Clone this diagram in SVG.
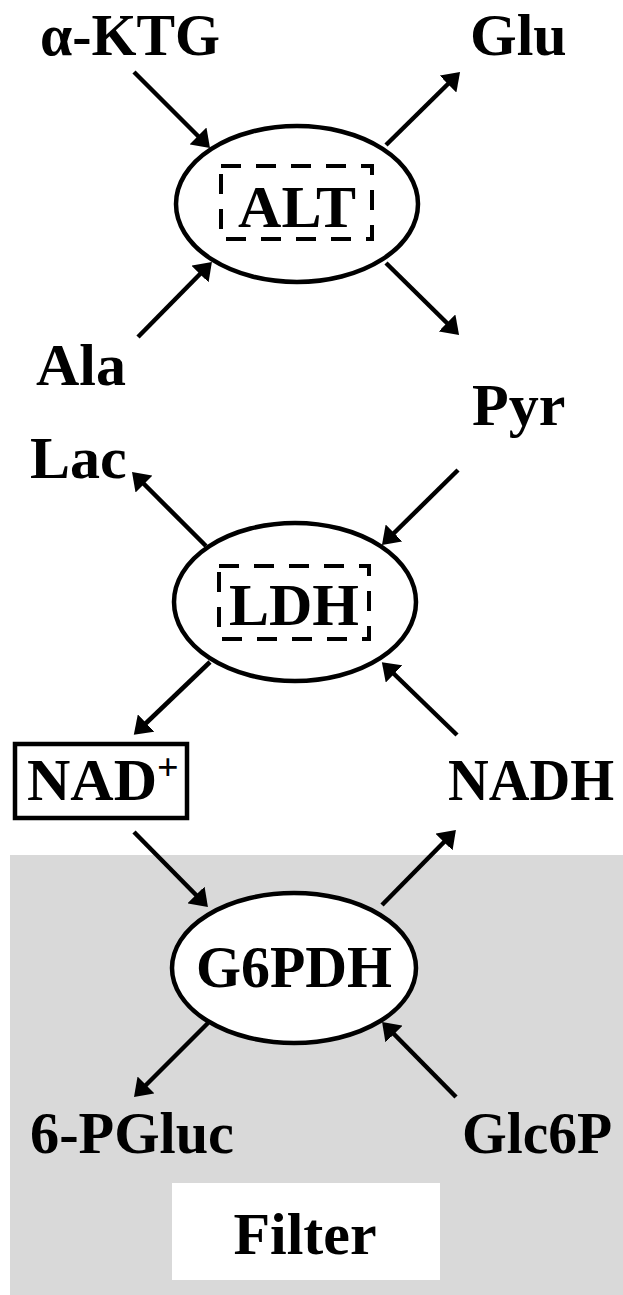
<svg xmlns="http://www.w3.org/2000/svg" width="623" height="1295" viewBox="0 0 623 1295">
<defs>
<style>
.t{font-family:"Liberation Serif","Times New Roman",serif;font-weight:bold;font-size:60px;fill:#000}
.c{text-anchor:middle}
.enz{fill:#fff;stroke:#000;stroke-width:4.5}
.dash{fill:none;stroke:#000;stroke-width:4;stroke-dasharray:20 15}
.arr{stroke:#000;stroke-width:4.5;fill:none;marker-end:url(#ah)}
</style>
<marker id="ah" markerUnits="userSpaceOnUse" markerWidth="18" markerHeight="24" refX="5" refY="12" orient="auto" viewBox="0 0 18 24">
<path d="M0,0 L17,12 L0,24 z" fill="#000"/>
</marker>
</defs>
<rect id="filter-area" x="10" y="855" width="613" height="440" fill="#d9d9d9"/>
<g id="connectors">
<line class="arr" x1="134" y1="72" x2="201.5" y2="139.5"/>
<line class="arr" x1="386" y1="145" x2="451.5" y2="80.5"/>
<line class="arr" x1="138" y1="337" x2="203.5" y2="270.5"/>
<line class="arr" x1="386" y1="263" x2="450.5" y2="326.5"/>
<line class="arr" x1="458" y1="470" x2="390.5" y2="536.5"/>
<line class="arr" x1="206" y1="546" x2="140.5" y2="480.5"/>
<line class="arr" x1="210" y1="662" x2="142.5" y2="726.5"/>
<line class="arr" x1="457" y1="735" x2="390.5" y2="670.5"/>
<line class="arr" x1="134" y1="832" x2="199.5" y2="898.5"/>
<line class="arr" x1="382" y1="905" x2="447.5" y2="838.5"/>
<line class="arr" x1="208" y1="1023" x2="142.5" y2="1088.5"/>
<line class="arr" x1="456" y1="1097" x2="390.5" y2="1030.5"/>
</g>
<g id="aKTG"><text class="t" x="40" y="55" textLength="180" lengthAdjust="spacingAndGlyphs">α-KTG</text></g>
<g id="Glu"><text class="t" x="470" y="55">Glu</text></g>
<g id="ALT">
<ellipse class="enz" cx="297" cy="204" rx="121" ry="78"/>
<rect class="dash" x="221" y="166" width="151" height="73"/>
<text class="t c" x="297" y="227">ALT</text>
</g>
<g id="Ala"><text class="t" x="36" y="385">Ala</text></g>
<g id="Pyr"><text class="t" x="472" y="425">Pyr</text></g>
<g id="Lac"><text class="t" x="30" y="478">Lac</text></g>
<g id="LDH">
<ellipse class="enz" cx="295" cy="602" rx="121" ry="79"/>
<rect class="dash" x="219" y="566" width="150" height="73"/>
<text class="t c" x="294" y="625">LDH</text>
</g>
<g id="NADplus">
<rect x="15" y="744" width="172" height="74" fill="#fff" stroke="#000" stroke-width="4.5"/>
<text class="t" x="27" y="800">NAD<tspan font-size="38" dy="-20">+</tspan></text>
</g>
<g id="NADH"><text class="t" x="448" y="800" textLength="166" lengthAdjust="spacingAndGlyphs">NADH</text></g>
<g id="G6PDH">
<ellipse class="enz" cx="294" cy="968" rx="122" ry="75"/>
<text class="t c" x="294" y="987" textLength="196" lengthAdjust="spacingAndGlyphs">G6PDH</text>
</g>
<g id="PGluc"><text class="t" x="30" y="1153" textLength="204" lengthAdjust="spacingAndGlyphs">6-PGluc</text></g>
<g id="Glc6P"><text class="t" x="462" y="1153" textLength="150" lengthAdjust="spacingAndGlyphs">Glc6P</text></g>
<g id="Filter">
<rect x="172" y="1183" width="268" height="97" fill="#fff"/>
<text class="t c" x="305" y="1254" font-size="62">Filter</text>
</g>
</svg>
